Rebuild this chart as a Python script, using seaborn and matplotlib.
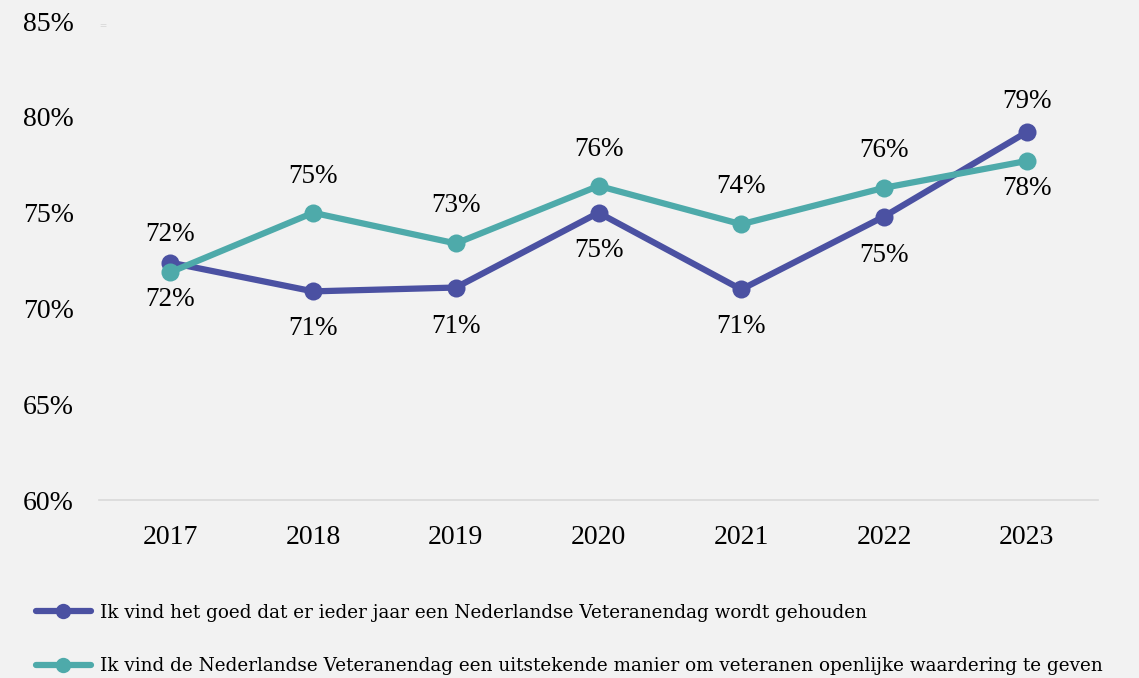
import numpy as np
import pandas as pd
import matplotlib
matplotlib.use('Agg')
import matplotlib.pyplot as plt
import seaborn as sns

# data
years = ['2017', '2018', '2019', '2020', '2021', '2022', '2023']
goed_values = [72.4, 70.9, 71.1, 75.0, 71.0, 74.8, 79.2]
manier_values = [71.9, 75.0, 73.4, 76.4, 74.4, 76.3, 77.7]
goed_label = 'Ik vind het goed dat er ieder jaar een Nederlandse Veteranendag wordt gehouden'
manier_label = 'Ik vind de Nederlandse Veteranendag een uitstekende manier om veteranen openlijke waardering te geven'
y_ticks = [60, 65, 70, 75, 80, 85]

# label offset in points, above (+) or below (-) the point
goed_off = [20, -27, -28, -27, -27, -28, 22]
manier_off = [-20, 26, 27, 26, 27, 27, -20]

purple = '#4b51a2'
teal = '#4eaaaa'
bg = '#f2f2f2'

sns.set_theme(style='white')
plt.rcParams['font.family'] = ['Liberation Serif', 'DejaVu Serif']

df = pd.DataFrame({
    'year': years * 2,
    'value': goed_values + manier_values,
    'series': [goed_label] * len(years) + [manier_label] * len(years),
})

fig = plt.figure(figsize=(11.39, 6.78), dpi=100, facecolor=bg)
ax = fig.add_axes([0.087, 0.262, 0.877, 0.707])
ax.set_facecolor(bg)

sns.lineplot(data=df, x='year', y='value', hue='series',
             palette=[purple, teal], marker='o', markersize=13,
             markeredgewidth=0, linewidth=4.5, sort=False, ax=ax)

x_idx = np.arange(len(years))
for vals, offs in [(goed_values, goed_off), (manier_values, manier_off)]:
    for i, (v, o) in enumerate(zip(vals, offs)):
        ax.annotate(f'{round(v)}%', (x_idx[i], v), xytext=(0, o),
                    textcoords='offset points', ha='center', va='center',
                    fontsize=19.5, color='black')

ax.set_ylim(60, 85)
ax.set_xlim(-0.5, len(years) - 0.5)
ax.set_yticks(y_ticks)
ax.set_yticklabels([f'{t}%' for t in y_ticks])
ax.tick_params(axis='both', labelsize=20, length=0, colors='black')
ax.tick_params(axis='y', pad=18)
ax.tick_params(axis='x', pad=18)
ax.set_xlabel('')
ax.set_ylabel('')
for s in ['top', 'right', 'left']:
    ax.spines[s].set_visible(False)
ax.spines['bottom'].set_color('#d9d9d9')
ax.spines['bottom'].set_linewidth(1.2)

handles, labels = ax.get_legend_handles_labels()
ax.get_legend().remove()
fig.legend(handles, labels, loc='lower left', bbox_to_anchor=(0.017, -0.02),
           frameon=False, handlelength=3.0, labelspacing=1.92,
           handletextpad=0.5, markerscale=0.85, labelcolor='black',
           prop={'family': 'DejaVu Serif', 'size': 13.2})

fig.text(0.09, 0.962, '=', fontsize=9, color='#d0d0d0', ha='center', va='center')

fig.savefig('out.png', dpi=100, facecolor=bg)
